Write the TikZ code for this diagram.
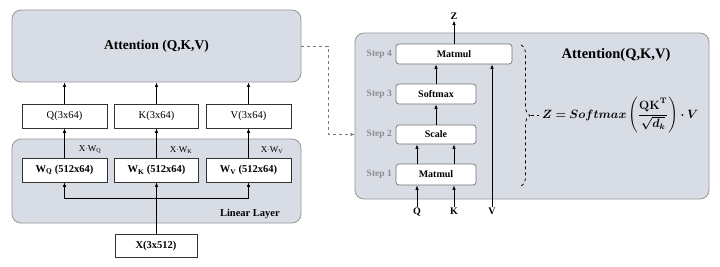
\documentclass[tikz,border=0pt]{standalone}
\usepackage{amsmath,bm}
\usepackage{fontspec}
\setmainfont{Liberation Serif}
\usetikzlibrary{arrows.meta,decorations.pathreplacing}
\definecolor{panel}{RGB}{216,220,229}
\definecolor{panelborder}{RGB}{150,150,150}
\definecolor{steptext}{RGB}{140,140,140}
\definecolor{dashgray}{RGB}{120,120,120}
\tikzset{
  panelbox/.style={draw=panelborder, fill=panel, rounded corners=9pt, line width=0.8pt},
  wbox/.style={draw=black!80, fill=white, line width=0.7pt, inner sep=0pt},
  sbox/.style={draw=black!55, fill=white, rounded corners=3pt, line width=0.7pt, inner sep=0pt, font=\fontsize{10}{12}\selectfont\bfseries},
  arr/.style={-{Latex[length=4.5pt,width=3.5pt]}, line width=0.8pt, black},
  steplbl/.style={anchor=east, text=steptext, font=\fontsize{9.5}{11}\selectfont\bfseries, inner sep=0pt},
  io/.style={font=\fontsize{10}{12}\selectfont\bfseries, inner sep=1pt},
  xw/.style={font=\fontsize{9}{11}\selectfont, inner sep=0pt}
}
\begin{document}
\begin{tikzpicture}[x=1pt,y=-1pt]
\useasboundingbox (0,0) rectangle (720,266);
% left side
\node[panelbox, minimum width=289pt, minimum height=72pt] (att) at (156.5,46)
  {\fontsize{13.5}{15}\selectfont\bfseries Attention (Q,K,V)};
\node[panelbox, minimum width=289pt, minimum height=84pt] (lin) at (156.5,181) {};
\node[anchor=east, font=\fontsize{10.5}{12}\selectfont\bfseries, inner sep=0pt] (linlbl) at (280,214) {Linear Layer};
\node[wbox, minimum width=85pt, minimum height=24pt, font=\fontsize{10.5}{12}\selectfont] (q) at (64.5,116) {Q(3x64)};
\node[wbox, minimum width=84pt, minimum height=24pt, font=\fontsize{10.5}{12}\selectfont] (k) at (156.5,116) {K(3x64)};
\node[wbox, minimum width=85pt, minimum height=24pt, font=\fontsize{10.5}{12}\selectfont] (v) at (248.5,116) {V(3x64)};
\node[wbox, minimum width=85pt, minimum height=24pt, font=\fontsize{10.5}{12}\selectfont\bfseries] (wq) at (64.5,170) {W\textsubscript{Q} (512x64)};
\node[wbox, minimum width=84pt, minimum height=24pt, font=\fontsize{10.5}{12}\selectfont\bfseries] (wk) at (156.5,170) {W\textsubscript{K} (512x64)};
\node[wbox, minimum width=85pt, minimum height=24pt, font=\fontsize{10.5}{12}\selectfont\bfseries] (wv) at (248.5,170) {W\textsubscript{V} (512x64)};
\node[wbox, minimum width=82pt, minimum height=23pt, font=\fontsize{10.5}{12}\selectfont\bfseries] (x) at (156,245.5) {X(3x512)};
\node[xw] (xwq) at (90,150) {X$\cdot$W\textsubscript{Q}};
\node[xw] (xwk) at (181,150) {X$\cdot$W\textsubscript{K}};
\node[xw] (xwv) at (272,150) {X$\cdot$W\textsubscript{V}};
\draw[arr] (q.north) -- (q.north |- att.south);
\draw[arr] (k.north) -- (k.north |- att.south);
\draw[arr] (v.north) -- (v.north |- att.south);
\draw[arr] (wq.north) -- (q.south);
\draw[arr] (wk.north) -- (k.south);
\draw[arr] (wv.north) -- (v.south);
\coordinate (bus) at (156.5,198);
\draw[arr] (x.north -| bus) -- (wk.south);
\draw[arr] (bus) -| (wq.south);
\draw[arr] (bus) -| (wv.south);
% right side
\node[panelbox, minimum width=354pt, minimum height=166pt] (rb) at (532,116) {};
\node[sbox, minimum width=116pt, minimum height=20pt] (m4) at (454,54) {Matmul};
\node[sbox, minimum width=80pt, minimum height=20pt] (sm) at (436,94) {Softmax};
\node[sbox, minimum width=80pt, minimum height=19pt] (sc) at (436,134.5) {Scale};
\node[sbox, minimum width=80pt, minimum height=21pt] (m1) at (436,174.5) {Matmul};
\node[steplbl] (s4) at (392,54) {Step 4};
\node[steplbl] (s3) at (392,94) {Step 3};
\node[steplbl] (s2) at (392,134.5) {Step 2};
\node[steplbl] (s1) at (392,174.5) {Step 1};
\node[io] (zl) at (454,16) {Z};
\node[io, anchor=north] (ql) at (417,207) {Q};
\node[io, anchor=north] (kl) at (454,207) {K};
\node[io, anchor=north] (vl) at (492,207) {V};
\draw[arr] (m4.north) -- (zl.south);
\draw[arr] (sm.north) -- (sm.north |- m4.south);
\draw[arr] (sc.north) -- (sm.south);
\draw[arr] (ql.north |- m1.north) -- (ql.north |- sc.south);
\draw[arr] (kl.north |- m1.north) -- (kl.north |- sc.south);
\draw[arr] (ql.north) -- (ql.north |- m1.south);
\draw[arr] (kl.north) -- (kl.north |- m1.south);
\draw[arr] (vl.north) -- (vl.north |- m4.south);
% dashed connector
\coordinate (bend) at (328,46);
\draw[dashed, dashgray, line width=0.7pt, -{Latex[length=4pt,width=3.5pt]}] (att.east) -- (bend) |- (rb.west |- s2);
% brace
\coordinate (btop) at (521,45);
\coordinate (bbot) at (521,186);
\draw[dashed, line width=0.8pt, decorate, decoration={brace, amplitude=9pt}] (btop) -- (bbot);
\coordinate (btip) at (531,115.5);
\coordinate (fstart) at (539,115.5);
\draw[dashed, line width=0.8pt] (btip) -- (fstart);
\node[anchor=west, inner sep=0pt] (formula) at (542,115)
  {\fontsize{11.5}{14}\selectfont$\displaystyle\bm{Z = Softmax\left(\frac{\mathbf{QK}^{\mathbf{T}}}{\sqrt{d_k}}\right)\cdot V}$};
\node[font=\fontsize{14.5}{16}\selectfont\bfseries, inner sep=0pt] (att2) at (616,55) {Attention(Q,K,V)};
\end{tikzpicture}
\end{document}
